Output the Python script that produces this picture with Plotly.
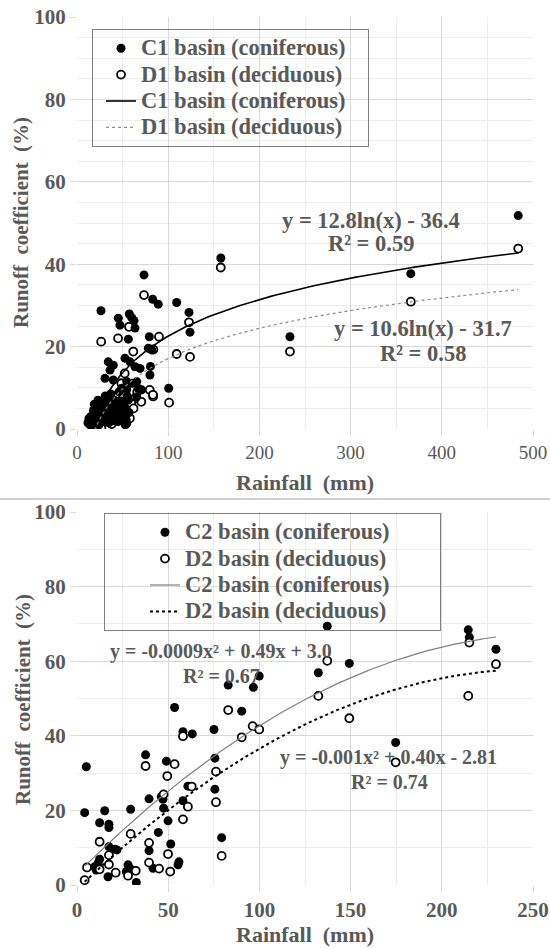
import numpy as np
import plotly.graph_objects as go

# ---------------- data: top panel (C1 / D1) ----------------
rain_c1 = [483.8, 366.0, 233.5, 157.7, 123.9, 122.8, 109.3, 100.5, 89.1, 83.0, 73.5,
           26.3, 45.3, 57.4, 60.0, 62.5, 47.1, 63.6, 56.3, 79.3, 78.2, 81.9, 80.5, 80.0,
           34.3, 39.8, 36.2, 52.6, 58.1, 63.6, 69.1, 30.7, 39.8, 54.5, 60.0, 65.5,
           49.0, 54.5, 70.9, 67.0, 65.5, 56.3,
           12, 13, 14, 15, 16, 17, 18, 18.5, 19, 20, 21, 22, 22.5, 23, 24, 25, 26, 27,
           28, 29, 30, 31, 32, 33, 34, 35, 36, 37, 38, 39, 40, 41, 42, 44, 45, 46, 47,
           48, 50, 52, 54, 55, 53, 57]
roc_c1 = [51.8, 37.7, 22.4, 41.5, 23.5, 28.3, 30.7, 9.9, 30.3, 31.5, 37.4,
          28.7, 26.9, 27.9, 27.0, 26.3, 25.2, 24.5, 21.8, 22.4, 19.6, 19.2, 15.2, 13.1,
          16.3, 15.5, 14.3, 17.2, 16.3, 15.1, 14.7, 12.3, 11.9, 11.5, 11.1, 11.5,
          9.9, 9.6, 9.5, 9.9, 7.8, 7.0,
          1.5, 2.5, 1.2, 3.0, 2.0, 1.0, 4.5, 2.8, 6.0, 1.5, 3.5, 5.0, 2.2, 7.0, 1.0, 4.0,
          2.5, 6.0, 3.2, 1.8, 5.0, 8.0, 2.5, 4.2, 6.5, 1.5, 3.5, 8.5, 5.5, 2.0, 4.0, 7.0,
          3.0, 5.5, 1.8, 9.0, 4.5, 6.8, 3.0, 5.0, 2.2, 8.0, 1.0, 4.0]

rain_d1 = [483.8, 366.0, 233.5, 157.6, 122.8, 123.9, 109.3, 101.0, 89.9, 83.5, 83.7,
           73.5, 26.5, 45.0, 57.0, 61.7, 79.7, 83.3, 70.5, 63.3, 59.5, 52.3, 48.6, 54.1,
           26.7, 39.5, 46.8, 50.4,
           15, 18, 20, 22, 24, 28, 30, 32, 34, 36, 38, 42, 44, 48, 52, 56, 58, 62, 66]
roc_d1 = [43.8, 30.9, 18.8, 39.2, 25.9, 17.5, 18.2, 6.4, 22.4, 7.9, 19.3,
          32.5, 21.2, 22.0, 24.8, 18.8, 9.5, 8.3, 6.6, 7.4, 6.2, 13.5, 11.1, 1.4,
          0.2, 2.6, 3.8, 5.4,
          1.0, 2.0, 3.5, 1.5, 5.0, 4.0, 6.0, 2.0, 3.5, 7.0, 1.2, 8.0, 2.5, 5.5, 4.2,
          3.0, 2.6, 5.0, 9.0]

# log trend lines y = a*ln(x) + b
fit_c1 = (12.8, -36.4)
fit_d1 = (10.6, -31.7)

# ---------------- data: bottom panel (C2 / D2) ----------------
rain_c2 = [5.1, 4.2, 15.2, 12.4, 17.5, 17.5, 17.5, 20.7, 21.9, 12.4, 11.5, 9.7, 10.6, 17.0,
           29.4, 28.0, 28.9, 27.0, 32.5, 37.6, 39.5, 39.5, 41.7, 44.6, 46.2, 47.1, 47.5,
           49.0, 49.9, 51.4, 53.5, 55.9, 55.4, 58.1, 58.1, 60.8, 63.2, 75.1, 75.6, 75.6,
           79.3, 82.9, 90.3, 96.7, 99.9, 132.3, 137.2, 149.3, 174.7, 214.5, 215.1, 229.7]
roc_c2 = [31.7, 19.4, 19.9, 16.7, 16.3, 15.4, 10.3, 9.6, 9.4, 6.9, 5.8, 4.9, 4.0, 2.2,
          20.3, 5.4, 4.5, 3.6, 0.7, 34.9, 23.1, 9.2, 4.5, 14.1, 23.7, 23.0, 20.6,
          33.2, 17.2, 11.0, 47.6, 6.2, 5.4, 41.1, 22.6, 26.5, 40.5, 41.7, 34.0, 25.7,
          12.7, 53.6, 46.6, 53.0, 56.0, 56.9, 69.4, 59.4, 38.2, 68.4, 66.4, 63.2]

rain_d2 = [4.2, 5.5, 12.4, 12.4, 17.5, 17.5, 21.2, 29.4, 28.0, 32.2, 37.6, 39.5, 39.5,
           45.0, 47.5, 49.5, 49.9, 51.1, 53.5, 58.1, 58.1, 60.8, 62.9, 76.2, 76.2, 79.3,
           82.9, 90.3, 96.3, 99.9, 132.3, 137.2, 149.3, 174.7, 214.5, 215.1, 229.7]
roc_d2 = [1.3, 4.7, 11.6, 4.2, 8.0, 5.5, 3.3, 13.7, 2.5, 3.8, 31.9, 11.3, 6.0,
          4.4, 24.3, 29.2, 8.3, 3.6, 32.4, 39.9, 17.6, 21.0, 26.4, 30.4, 22.2, 7.8,
          46.9, 39.6, 42.6, 41.7, 50.7, 60.1, 44.7, 32.9, 50.7, 65.0, 59.2]

# polynomial trend lines y = a*x^2 + b*x + c (as drawn)
fit_c2 = (-0.00093, 0.49, 3.0)
fit_d2 = (-0.000937, 0.470, -1.07)

x_ticks_top = [0, 100, 200, 300, 400, 500]
x_ticks_bot = [0, 50, 100, 150, 200, 250]
y_ticks = [0, 20, 40, 60, 80, 100]

names_top = ["C1 basin (coniferous)", "D1 basin (deciduous)"]
names_bot = ["C2 basin (coniferous)", "D2 basin (deciduous)"]

eq_texts = ["y = 12.8ln(x) - 36.4", "R² = 0.59", "y = 10.6ln(x) - 31.7", "R² = 0.58",
            "y = -0.0009x² + 0.49x + 3.0", "R² = 0.67", "y = -0.001x² + 0.40x - 2.81", "R² = 0.74"]

# ---------------- figure ----------------
FONT = "Liberation Serif"
GREY = "#595959"
W, H = 550, 949
L, R, T, B = 77, 17, 17, 64
PW, PH = W - L - R, H - T - B   # 456 x 868


def px(xp):   # window pixel -> paper x
    return (xp - L) / PW


def py(yp):   # window pixel -> paper y
    return (H - B - yp) / PH


def big(name):
    return "<span style='font-size:22.5px'>" + name + "</span>"


def trend_log(fit, xs):
    xx = np.linspace(min(xs), max(xs), 200)
    return xx, fit[0] * np.log(xx) + fit[1]


def trend_poly(fit, xs):
    xx = np.linspace(min(xs), max(xs), 200)
    return xx, fit[0] * xx ** 2 + fit[1] * xx + fit[2]


filled = dict(color="black", size=9, line=dict(width=0))
hollow = dict(color="white", size=8, line=dict(color="black", width=1.8))

fig = go.Figure()
# top panel: open markers drawn beneath the filled ones
fig.add_trace(go.Scatter(x=rain_d1, y=roc_d1, mode="markers", marker=hollow, legendrank=2,
                         name=big(names_top[1]), xaxis="x", yaxis="y", legend="legend"))
fig.add_trace(go.Scatter(x=rain_c1, y=roc_c1, mode="markers", marker=filled, legendrank=1,
                         name=big(names_top[0]), xaxis="x", yaxis="y", legend="legend"))
xx, yy = trend_log(fit_c1, rain_c1)
fig.add_trace(go.Scatter(x=xx, y=yy, mode="lines", line=dict(color="black", width=1.6), legendrank=3,
                         name=big(names_top[0]), xaxis="x", yaxis="y", legend="legend"))
xx, yy = trend_log(fit_d1, rain_d1)
fig.add_trace(go.Scatter(x=xx, y=yy, mode="lines", line=dict(color="#8c8c8c", width=1.2, dash="dot"),
                         legendrank=4, name=big(names_top[1]), xaxis="x", yaxis="y", legend="legend"))

fig.add_trace(go.Scatter(x=rain_c2, y=roc_c2, mode="markers", marker=filled, legendrank=1,
                         name=big(names_bot[0]), xaxis="x2", yaxis="y2", legend="legend2"))
fig.add_trace(go.Scatter(x=rain_d2, y=roc_d2, mode="markers", marker=hollow, legendrank=2,
                         name=big(names_bot[1]), xaxis="x2", yaxis="y2", legend="legend2"))
xx, yy = trend_poly(fit_c2, rain_c2)
fig.add_trace(go.Scatter(x=xx, y=yy, mode="lines", line=dict(color="#7f7f7f", width=1.2), legendrank=3,
                         name=big(names_bot[0]), xaxis="x2", yaxis="y2", legend="legend2"))
xx, yy = trend_poly(fit_d2, rain_d2)
fig.add_trace(go.Scatter(x=xx, y=yy, mode="lines", line=dict(color="black", width=2, dash="dot"),
                         legendrank=4, name=big(names_bot[1]), xaxis="x2", yaxis="y2", legend="legend2"))

top_dom = [py(429), py(17)]
bot_dom = [py(885), py(512)]

axis_common = dict(showgrid=True, gridcolor="#d9d9d9", gridwidth=1, zeroline=False,
                   showline=False, ticks="outside", ticklen=6, tickcolor="#d9d9d9",
                   automargin=False, ticklabeloverflow="allow")

tick_bold = dict(family=FONT, size=21, color=GREY, weight="bold")
tick_reg = dict(family=FONT, size=19, color=GREY)

legend_font = dict(family=FONT, size=18, color=GREY, weight="bold")

fig.update_layout(
    width=W, height=H,
    margin=dict(l=L, r=R, t=T, b=B, autoexpand=False),
    paper_bgcolor="white", plot_bgcolor="white",
    showlegend=True,
    xaxis=dict(domain=[0, 1], anchor="y", range=[0, 500], tickvals=x_ticks_top,
               tickfont=tick_reg, minor=dict(dtick=50, showgrid=True, gridcolor="#ededed", ticks=""),
               **axis_common),
    yaxis=dict(domain=top_dom, anchor="x", range=[0, 100], tickvals=y_ticks,
               tickfont=tick_bold, minor=dict(dtick=5, showgrid=True, gridcolor="#ededed", ticks=""),
               **axis_common),
    xaxis2=dict(domain=[0, 1], anchor="y2", range=[0, 250], tickvals=x_ticks_bot,
                tickfont=tick_bold, minor=dict(dtick=25, showgrid=True, gridcolor="#ededed", ticks=""),
                **axis_common),
    yaxis2=dict(domain=bot_dom, anchor="x2", range=[0, 100], tickvals=y_ticks,
                tickfont=tick_bold, minor=dict(dtick=10, showgrid=True, gridcolor="#ededed", ticks=""),
                **axis_common),
    legend=dict(x=px(92), y=py(29), xanchor="left", yanchor="top", orientation="h",
                bgcolor="rgba(255,255,255,0)", bordercolor="#7f7f7f", borderwidth=1,
                font=legend_font, indentation=8, traceorder="normal",
                entrywidth=222, entrywidthmode="pixels"),
    legend2=dict(x=px(104), y=py(513), xanchor="left", yanchor="top", orientation="h",
                 bgcolor="rgba(255,255,255,0)", bordercolor="#7f7f7f", borderwidth=1,
                 font=legend_font, indentation=40, traceorder="normal",
                 entrywidth=250, entrywidthmode="pixels"),
)

ann_font_top = dict(family=FONT, size=22.5, color=GREY, weight="bold")
ann_font_bot = dict(family=FONT, size=20, color=GREY, weight="bold")
ann_pos = [(370.6, 220.3, ann_font_top), (370.6, 243.6, ann_font_top),
           (423.2, 328.0, ann_font_top), (422.5, 353.0, ann_font_top),
           (221.3, 651.9, ann_font_bot), (221.3, 675.8, ann_font_bot),
           (388.4, 757.8, ann_font_bot), (389.4, 781.7, ann_font_bot)]
for txt, (ax_, ay_, f) in zip(eq_texts, ann_pos):
    fig.add_annotation(text=txt, x=px(ax_), y=py(ay_), xref="paper", yref="paper",
                       showarrow=False, xanchor="center", yanchor="middle", font=f)

title_font = dict(family=FONT, size=22, color=GREY, weight="bold")
ytitle_font = dict(family=FONT, size=21, color=GREY, weight="bold")
fig.add_annotation(text="Runoff  coefficient  (%)", x=px(21), y=py(223), xref="paper", yref="paper",
                   textangle=-90, showarrow=False, xanchor="center", yanchor="middle", font=ytitle_font)
fig.add_annotation(text="Runoff  coefficient  (%)", x=px(23), y=py(700), xref="paper", yref="paper",
                   textangle=-90, showarrow=False, xanchor="center", yanchor="middle", font=ytitle_font)
fig.add_annotation(text="Rainfall  (mm)", x=0.5, y=py(482), xref="paper", yref="paper",
                   showarrow=False, xanchor="center", yanchor="middle", font=title_font)
fig.add_annotation(text="Rainfall  (mm)", x=0.5, y=py(935), xref="paper", yref="paper",
                   showarrow=False, xanchor="center", yanchor="middle", font=title_font)

fig.add_shape(type="line", xref="paper", yref="paper", x0=px(0), x1=px(W), y0=py(499), y1=py(499),
              line=dict(color="#c0c0c0", width=1.5))

# remove the default 8 px page margin so the figure fills the window exactly
fig.write_html("out.html", config={"displayModeBar": False},
               post_script="document.body.style.margin='0px';document.body.style.overflow='hidden';")
